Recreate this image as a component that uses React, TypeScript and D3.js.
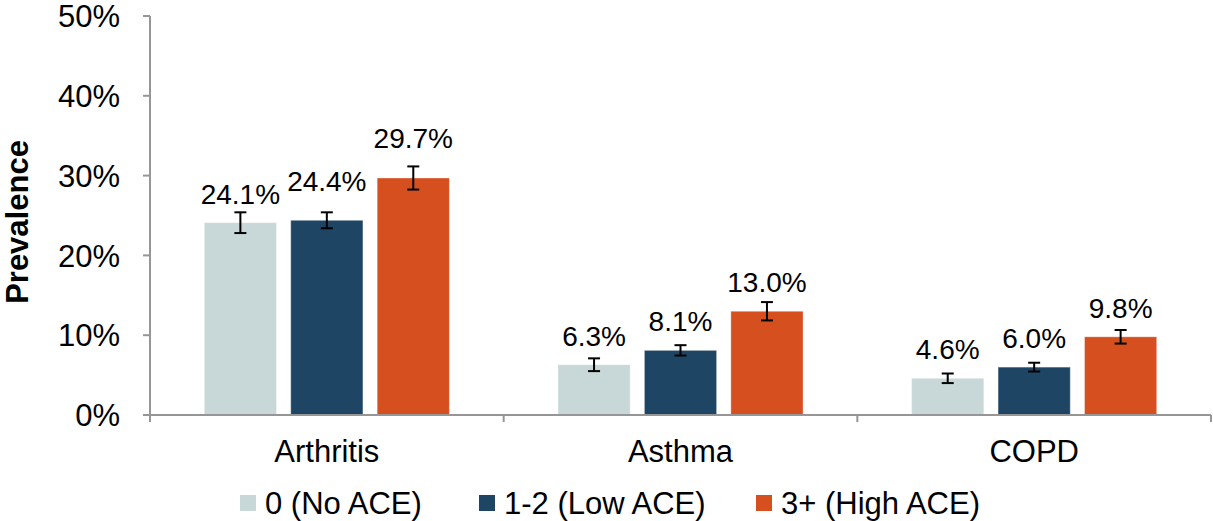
import React from "react";
import * as d3 from "d3";

const categories = ["Arthritis", "Asthma", "COPD"];
const seriesNames = ["0 (No ACE)", "1-2 (Low ACE)", "3+ (High ACE)"];
const seriesColors = ["#C8D7D7", "#1F4564", "#D54F1F"];
// prevalence (%) per series, per category
const noAce = [24.1, 6.3, 4.6];
const lowAce = [24.4, 8.1, 6.0];
const highAce = [29.7, 13.0, 9.8];
// half-width of confidence interval (%)
const noAceErr = [1.3, 0.8, 0.6];
const lowAceErr = [1.0, 0.65, 0.55];
const highAceErr = [1.45, 1.15, 0.85];
const yTicks = [0, 10, 20, 30, 40, 50];

const values = [noAce, lowAce, highAce];
const errors = [noAceErr, lowAceErr, highAceErr];

const W = 1213;
const H = 521;
const FONT = "'Liberation Sans', Arial, sans-serif";

export default function App() {
  const left = 150;
  const right = 1211;
  const top = 16;
  const bottom = 415;
  const y = d3.scaleLinear().domain([0, 50]).range([bottom, top]);
  const x = d3.scaleBand<string>().domain(categories).range([left, right]).padding(0);
  const cw = x.bandwidth();
  const outer = cw * 0.1535;
  const inner = d3
    .scaleBand<number>()
    .domain([0, 1, 2])
    .range([outer, cw - outer])
    .paddingInner(0.165);
  const bw = inner.bandwidth();
  const axisColor = "#969696";

  const bars: React.ReactNode[] = [];
  const labels: React.ReactNode[] = [];
  const errs: React.ReactNode[] = [];
  categories.forEach((c, ci) => {
    let prevY: number | null = null;
    let nudge = 0;
    values.forEach((vals, si) => {
      const v = vals[ci];
      const e = errors[si][ci];
      const bx = (x(c) as number) + (inner(si) as number);
      const cx = bx + bw / 2;
      const yt = y(v);
      bars.push(
        <rect
          key={`b${ci}-${si}`}
          x={bx}
          y={yt}
          width={bw}
          height={bottom - yt}
          fill={seriesColors[si]}
          stroke="#ffffff"
          strokeOpacity={0.35}
          strokeWidth={1}
        />
      );
      const eT = y(v + e);
      const eB = y(v - e);
      errs.push(
        <g key={`e${ci}-${si}`} stroke="#000" strokeWidth={2}>
          <line x1={cx} x2={cx} y1={eT} y2={eB} />
          <line x1={cx - 6} x2={cx + 6} y1={eT} y2={eT} />
          <line x1={cx - 6} x2={cx + 6} y1={eB} y2={eB} />
        </g>
      );
      let ly = Math.min(yt - 19, eT - 8) - nudge;
      if (prevY !== null && Math.abs(ly - prevY) < 8) {
        nudge += 10;
        ly -= 10;
      }
      prevY = ly;
      labels.push(
        <text
          key={`l${ci}-${si}`}
          x={cx}
          y={ly}
          textAnchor="middle"
          fontSize={28}
          fill="#000"
        >
          {v.toFixed(1) + "%"}
        </text>
      );
    });
  });

  const legendSwatchX = [240, 479, 756];

  return (
    <svg width={W} height={H} style={{ display: "block", position: "absolute", left: 0, top: 0 }} fontFamily={FONT}>
      <rect x={0} y={0} width={W} height={H} fill="#fff" />
      {/* y axis */}
      <line x1={left} x2={left} y1={top} y2={bottom + 7} stroke={axisColor} strokeWidth={2} />
      {yTicks.map((t) => (
        <g key={`yt${t}`}>
          <line x1={left - 7} x2={left} y1={y(t)} y2={y(t)} stroke={axisColor} strokeWidth={2} />
          <text
            x={120}
            y={y(t)}
            dy="0.36em"
            textAnchor="end"
            fontSize={31}
            fill="#000"
          >
            {t + "%"}
          </text>
        </g>
      ))}
      <text
        transform={`translate(28, 222) rotate(-90)`}
        textAnchor="middle"
        fontSize={31}
        fontWeight="bold"
        fill="#000"
      >
        Prevalence
      </text>
      {bars}
      {/* x axis */}
      <line x1={left - 7} x2={right} y1={bottom} y2={bottom} stroke={axisColor} strokeWidth={2} />
      {[...categories.map((c) => x(c) as number), right].map((px, i) => (
        <line key={`xt${i}`} x1={px} x2={px} y1={bottom} y2={bottom + 7} stroke={axisColor} strokeWidth={2} />
      ))}
      {categories.map((c) => (
        <text
          key={`xl${c}`}
          x={(x(c) as number) + cw / 2}
          y={462}
          textAnchor="middle"
          fontSize={31}
          fill="#000"
        >
          {c}
        </text>
      ))}
      {errs}
      {labels}
      {/* legend */}
      {seriesNames.map((s, i) => (
        <g key={`lg${i}`}>
          <rect x={legendSwatchX[i]} y={495} width={16} height={16} fill={seriesColors[i]} />
          <text x={legendSwatchX[i] + 25} y={514} fontSize={31} fill="#000">
            {s}
          </text>
        </g>
      ))}
    </svg>
  );
}
